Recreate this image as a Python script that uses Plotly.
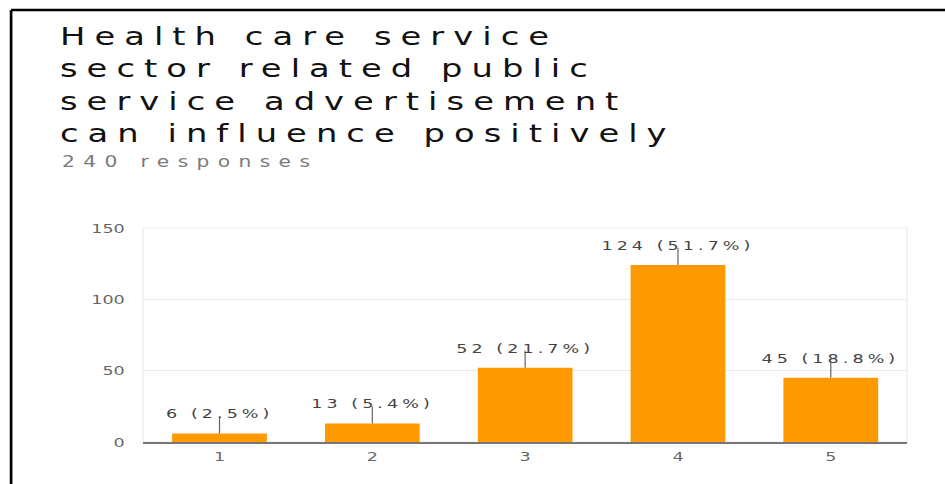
import plotly.graph_objects as go

# Survey result: rating 1-5
categories = [1, 2, 3, 4, 5]
counts = [6, 13, 52, 124, 45]
percents = [2.5, 5.4, 21.7, 51.7, 18.8]
y_ticks = [0, 50, 100, 150]
title_lines = [
    "Health care service",
    "sector related public",
    "service advertisement",
    "can influence positively",
]
responses_text = "240 responses"

FONT = "DejaVu Sans"
BAR_COLOR = "#ff9900"

# The page shows the figure stretched horizontally (wide, phone-screenshot look):
# the figure is laid out at a narrower width and scaled by X_SCALE on screen.
X_SCALE = 1.35
W_PAGE, H = 945, 484
W = W_PAGE / X_SCALE
ML, MR, MT, MB = 143 / X_SCALE, 38 / X_SCALE, 228, 42


def paper_x(px_page):
    px = px_page / X_SCALE
    return (px - ML) / (W - ML - MR)


def paper_y(py):
    return (H - MB - py) / (H - MT - MB)


fig = go.Figure()
fig.add_trace(go.Bar(
    x=categories,
    y=counts,
    marker=dict(color=BAR_COLOR, line=dict(width=0)),
    width=0.62,
    hoverinfo="skip",
))

annotations = [
    dict(
        text=responses_text, xref="paper", yref="paper",
        x=paper_x(59), y=paper_y(162), xanchor="left", yanchor="middle",
        align="left", showarrow=False,
        font=dict(family=FONT, size=15, color="#7a7a7a"),
    )
]
shapes = [
    # outer frame (top and left edges)
    dict(type="line", xref="paper", yref="paper",
         x0=paper_x(11), x1=paper_x(W_PAGE + 5), y0=paper_y(10), y1=paper_y(10),
         line=dict(color="#000000", width=2.5)),
    dict(type="line", xref="paper", yref="paper",
         x0=paper_x(11), x1=paper_x(11), y0=paper_y(10), y1=paper_y(H + 5),
         line=dict(color="#000000", width=2)),
    # faint plot-area border
    dict(type="rect", xref="paper", yref="paper", x0=0, x1=1, y0=0, y1=1,
         line=dict(color="#eeeeee", width=1), layer="below"),
]

for cat, val, pct in zip(categories, counts, percents):
    annotations.append(dict(
        text=f"{val} ({pct}%)", x=cat, y=val, xref="x", yref="y",
        xanchor="center", yanchor="bottom", yshift=10, showarrow=False,
        font=dict(family=FONT, size=13, color="#444444"),
    ))
    shapes.append(dict(
        type="line", xref="x", yref="y", x0=cat, x1=cat,
        ysizemode="pixel", yanchor=val, y0=0, y1=17,
        line=dict(color="#666666", width=0.9),
    ))

fig.update_layout(
    width=W, height=H,
    margin=dict(l=ML, r=MR, t=MT, b=MB),
    paper_bgcolor="#ffffff",
    plot_bgcolor="#ffffff",
    showlegend=False,
    title=dict(
        text="<br>".join(title_lines),
        font=dict(family=FONT, size=25, color="#111111"),
        xref="container", x=paper_x(60) * (W - ML - MR) / W + ML / W,
        xanchor="left",
        yref="container", y=1 - 45 / H, yanchor="top",
    ),
    xaxis=dict(
        range=[0.5, 5.5],
        tickvals=categories,
        showline=True, linecolor="#777777", linewidth=1.5,
        showgrid=False, zeroline=False,
        ticks="outside", ticklen=2, tickcolor="rgba(0,0,0,0)",
        tickfont=dict(family=FONT, size=13, color="#666666"),
    ),
    yaxis=dict(
        range=[0, 150],
        tickvals=y_ticks,
        showgrid=True, gridcolor="#e9e9e9", gridwidth=1,
        zeroline=False, showline=False,
        ticks="outside", ticklen=10, tickcolor="rgba(0,0,0,0)",
        tickfont=dict(family=FONT, size=13, color="#666666"),
    ),
    annotations=annotations,
    shapes=shapes,
)

css = (
    ".gtitle{letter-spacing:6.7px}"
    "g.annotation text{letter-spacing:3px}"
    "g.annotation[data-index='0'] text{letter-spacing:6.2px}"
)
post = (
    "var st=document.createElement('style');"
    f"st.textContent=\"{css}\";"
    "document.head.appendChild(st);"
    "var gd=document.getElementById('{plot_id}');"
    "gd.style.transformOrigin='0 0';"
    f"gd.style.transform='scaleX({X_SCALE})';"
    "document.body.style.margin='0';"
    "document.body.style.overflow='hidden';"
)

fig.write_html("out.html", post_script=post, config={"displayModeBar": False})
